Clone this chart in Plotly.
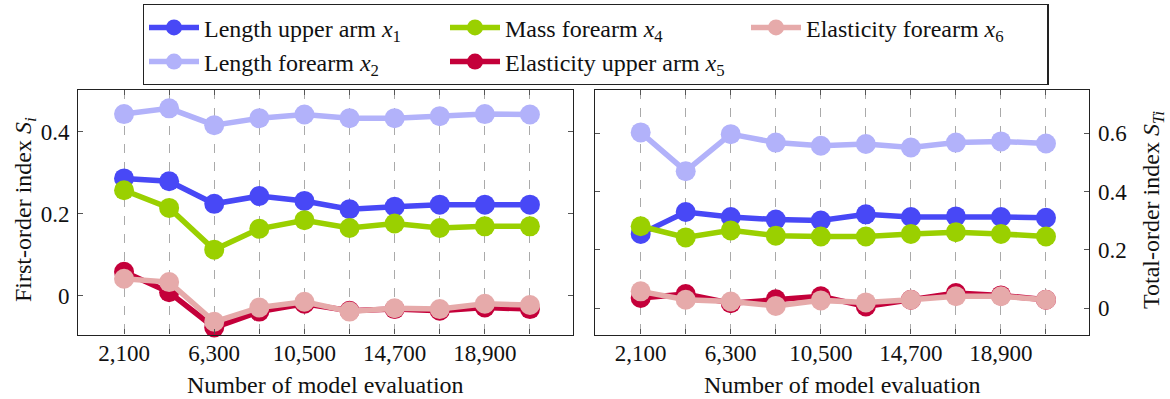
import plotly.graph_objects as go

evaluations = [2100, 4200, 6300, 8400, 10500, 12600, 14700, 16800, 18900, 21000]

names = ["Length upper arm <i>x</i><sub>1</sub>",
         "Length forearm <i>x</i><sub>2</sub>",
         "Mass forearm <i>x</i><sub>4</sub>",
         "Elasticity upper arm <i>x</i><sub>5</sub>",
         "Elasticity forearm <i>x</i><sub>6</sub>"]
colors = ["rgb(72,72,246)", "rgb(178,178,250)", "rgb(154,208,0)",
          "rgb(196,0,58)", "rgb(230,170,170)"]
legend_ranks = [1, 4, 2, 5, 3]

# First-order indices S_i
first_x1 = [0.286, 0.279, 0.224, 0.243, 0.231, 0.211, 0.217, 0.222, 0.222, 0.222]
first_x2 = [0.443, 0.457, 0.416, 0.433, 0.442, 0.433, 0.433, 0.438, 0.443, 0.442]
first_x4 = [0.257, 0.214, 0.112, 0.163, 0.184, 0.165, 0.176, 0.165, 0.169, 0.169]
first_x5 = [0.058, 0.008, -0.078, -0.039, -0.020, -0.037, -0.033, -0.037, -0.029, -0.033]
first_x6 = [0.041, 0.033, -0.064, -0.029, -0.015, -0.039, -0.031, -0.033, -0.020, -0.023]

# Total-order indices S_Ti
total_x1 = [0.255, 0.330, 0.313, 0.304, 0.301, 0.322, 0.313, 0.315, 0.313, 0.310]
total_x2 = [0.603, 0.470, 0.597, 0.568, 0.557, 0.563, 0.551, 0.568, 0.572, 0.565]
total_x4 = [0.281, 0.243, 0.267, 0.249, 0.246, 0.246, 0.255, 0.261, 0.255, 0.246]
total_x5 = [0.035, 0.049, 0.017, 0.031, 0.041, 0.006, 0.029, 0.052, 0.044, 0.029]
total_x6 = [0.058, 0.029, 0.023, 0.008, 0.027, 0.020, 0.029, 0.041, 0.041, 0.029]

x_ticklabels = ["2,100", "", "6,300", "", "10,500", "", "14,700", "", "18,900", ""]
left_yticks = [0, 0.2, 0.4]
left_yticklabels = ["0", "0.2", "0.4"]
right_yticks = [0, 0.2, 0.4, 0.6]
right_yticklabels = ["0", "0.2", "0.4", "0.6"]

FONT = "Liberation Serif"

fig = go.Figure()
first = [first_x1, first_x2, first_x4, first_x5, first_x6]
total = [total_x1, total_x2, total_x4, total_x5, total_x6]
for i in range(5):
    fig.add_trace(go.Scatter(
        x=evaluations, y=first[i], name=names[i], mode="lines+markers",
        line=dict(color=colors[i], width=5.5), marker=dict(color=colors[i], size=20),
        xaxis="x", yaxis="y", legendrank=legend_ranks[i], cliponaxis=False))
for i in range(5):
    fig.add_trace(go.Scatter(
        x=evaluations, y=total[i], name=names[i], mode="lines+markers",
        line=dict(color=colors[i], width=5.5), marker=dict(color=colors[i], size=20),
        xaxis="x2", yaxis="y2", showlegend=False, cliponaxis=False))

xcommon = dict(range=[-30, 23020], tickvals=evaluations, ticktext=x_ticklabels,
               ticks="inside", ticklen=5, tickcolor="#555", showline=True, linecolor="#222",
               linewidth=1.3, mirror="ticks", showgrid=True, gridcolor="#aaaaaa",
               griddash="dash", gridwidth=1, zeroline=False,
               tickfont=dict(family=FONT, size=23, color="#111"), ticklabelstandoff=-2)
ycommon = dict(ticks="inside", ticklen=5, tickcolor="#555", showline=True, linecolor="#222",
               linewidth=1.3, mirror="ticks", showgrid=False, zeroline=False,
               tickfont=dict(family=FONT, size=23, color="#111"), ticklabelstandoff=3)

ydom = [1 - 334.5 / 399, 1 - 89.5 / 399]
fig.update_layout(
    width=1170, height=399,
    margin=dict(l=0, r=0, t=0, b=0),
    paper_bgcolor="white", plot_bgcolor="white",
    font=dict(family=FONT, size=22, color="#111"),
    xaxis=dict(domain=[78.3 / 1170, 573.3 / 1170], anchor="y", **xcommon),
    yaxis=dict(domain=ydom, anchor="x", range=[-0.095, 0.503],
               tickvals=left_yticks, ticktext=left_yticklabels, **ycommon),
    xaxis2=dict(domain=[595 / 1170, 1089.3 / 1170], anchor="y2", **xcommon),
    yaxis2=dict(domain=ydom, anchor="x2", side="right", range=[-0.09, 0.75],
                tickvals=right_yticks, ticktext=right_yticklabels, **ycommon),
    legend=dict(orientation="h", x=142.7 / 1170, y=1 - 4 / 399, xanchor="left", yanchor="top",
                bordercolor="#222", borderwidth=1.3, bgcolor="white",
                font=dict(family=FONT, size=24, color="#111"),
                entrywidth=236, itemwidth=50, tracegroupgap=0),
    showlegend=True,
)

ann = [
    dict(text="Number of model evaluation", x=(78.3 + 573.3) / 2 / 1170, y=1 - 385 / 399),
    dict(text="Number of model evaluation", x=(595 + 1089.3) / 2 / 1170, y=1 - 385 / 399),
    dict(text="First-order index <i>S</i><sub><i>i</i></sub>", x=25 / 1170, y=1 - 210 / 399,
         textangle=-90),
    dict(text="Total-order index <i>S</i><sub><i>Ti</i></sub>", x=1153 / 1170, y=1 - 210 / 399,
         textangle=-90),
]
for a in ann:
    fig.add_annotation(xref="paper", yref="paper", showarrow=False, xanchor="center",
                       yanchor="middle", font=dict(family=FONT, size=24, color="#111"), **a)

fig.write_html("out.html", config={"displayModeBar": False},
               post_script="document.body.style.margin='0';")
